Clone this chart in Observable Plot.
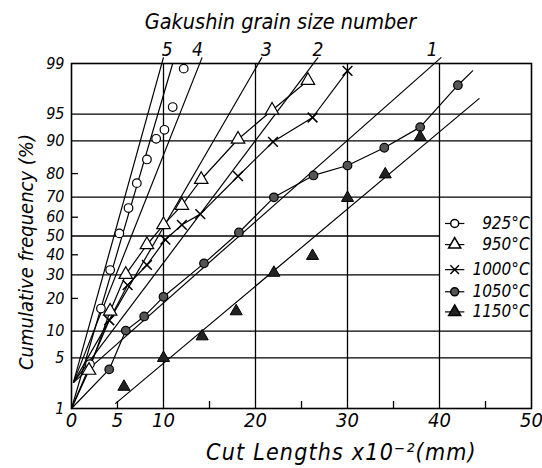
<!DOCTYPE html>
<html><head><meta charset="utf-8">
<script src="https://cdn.jsdelivr.net/npm/d3@7"></script>
<script src="https://cdn.jsdelivr.net/npm/@observablehq/plot@0.6"></script>
<style>body{margin:0;background:#fff}</style>
</head><body><div id="chart"></div>
<script>
// ---- data (cut length x10^-2 mm, cumulative frequency %) ----
const series = ["925°C", "950°C", "1000°C", "1050°C", "1150°C"];
const x925 = [2.0, 3.2, 4.2, 5.2, 6.2, 7.1, 8.2, 9.2, 10.1, 11.0, 12.2];
const p925 = [4.2, 16.4, 32.3, 51.4, 64.7, 76.2, 84.9, 90.5, 92.4, 95.9, 98.8];
const x950 = [1.9, 4.2, 5.9, 8.2, 10.0, 12.0, 14.1, 18.1, 21.8, 25.7];
const p950 = [3.5, 15.5, 30.2, 45.3, 56, 66, 77.7, 90.4, 95.5, 98.2];
const x1000 = [4.1, 6.1, 8.2, 10.2, 12.0, 14.0, 18.1, 21.9, 26.2, 30.0];
const p1000 = [12.8, 25.4, 34.8, 48, 56, 61.6, 79, 89.8, 94.5, 98.7];
const x1050 = [4.1, 5.9, 7.9, 10.0, 14.4, 18.2, 22.0, 26.3, 30.0, 34.0, 37.9, 42.0];
const p1050 = [3.6, 10.1, 13.9, 20.6, 35.6, 51.9, 69.9, 79.3, 82.9, 88.3, 92.9, 97.9];
const x1150 = [5.7, 10.0, 14.2, 17.9, 22.0, 26.2, 30.0, 34.1, 37.9];
const p1150 = [2.1, 5, 8.8, 15.5, 31, 39.4, 69.6, 79.7, 90.9];

// drawn lines: straight fit for 925 & 1150, joined curves for the others
const fit925x = [0, 11.0];  const fit925p = [1, 99];
const curve950x = [0, ...x950]; const curve950p = [1, ...p950];
const curve1000x = [0, ...x1000]; const curve1000p = [1, ...p1000];
const curve1050x = [0, ...x1050, 43.6]; const curve1050p = [1, ...p1050, 98.7];
const fit1150x = [4.8, 44.3]; const fit1150p = [1.2, 96.8];

// Gakushin grain size reference lines (common start, end above 99 %)
const grainNo = ["5", "4", "3", "2", "1"];
const grainX0 = [0.2, 0.2, 0.2, 0.2, 0.2];
const grainP0 = [2.4, 2.4, 2.4, 2.4, 2.4];
const grainX1 = [10.0, 14.2, 20.7, 26.8, 40.2];
const grainP1 = 99.2;
const grainLabelX = [10.4, 13.7, 21.2, 26.8, 39.2];

// axes
const xLabelTicks = [0, 5, 10, 20, 30, 40, 50];
const xGrid = [10, 20, 30, 40];
const xMinor = [5, 15, 25, 35, 45];
const yLabelTicks = [99, 95, 90, 80, 70, 60, 50, 40, 30, 20, 10, 5, 1];
const yGridFull = [95, 90, 70, 10, 5];
const yGridPart = [50, 30];
const yMinor = [80, 60, 40, 20];
const legendP = [56.7, 45.4, 32.5, 22.6, 15.3];

// ---- probability (probit) transform ----
function probit(p) {
  const a=[-3.969683028665376e+01,2.209460984245205e+02,-2.759285104469687e+02,1.383577518672690e+02,-3.066479806614716e+01,2.506628277459239e+00];
  const b=[-5.447609879822406e+01,1.615858368580409e+02,-1.556989798598866e+02,6.680131188771972e+01,-1.328068155288572e+01];
  const c=[-7.784894002430293e-03,-3.223964580411365e-01,-2.400758277161838e+00,-2.549732539343734e+00,4.374664141464968e+00,2.938163982698783e+00];
  const d=[7.784695709041462e-03,3.224671290700398e-01,2.445134137142996e+00,3.754408661907416e+00];
  const pl = 0.02425, ph = 1 - pl; let q, r;
  if (p < pl) { q = Math.sqrt(-2*Math.log(p)); return (((((c[0]*q+c[1])*q+c[2])*q+c[3])*q+c[4])*q+c[5])/((((d[0]*q+d[1])*q+d[2])*q+d[3])*q+1); }
  if (p <= ph) { q = p - 0.5; r = q*q; return (((((a[0]*r+a[1])*r+a[2])*r+a[3])*r+a[4])*r+a[5])*q/(((((b[0]*r+b[1])*r+b[2])*r+b[3])*r+b[4])*r+1); }
  q = Math.sqrt(-2*Math.log(1-p)); return -(((((c[0]*q+c[1])*q+c[2])*q+c[3])*q+c[4])*q+c[5])/((((d[0]*q+d[1])*q+d[2])*q+d[3])*q+1);
}
const Z = p => probit(p / 100);

const pts = (name, xs, ps) => xs.map((x, i) => ({s: name, x, z: Z(ps[i])}));
const pts925 = pts(series[0], x925, p925);
const pts950 = pts(series[1], x950, p950);
const pts1000 = pts(series[2], x1000, p1000);
const pts1050 = pts(series[3], x1050, p1050);
const pts1150 = pts(series[4], x1150, p1150);
const curves = [
  ...pts("925", fit925x, fit925p),
  ...pts("950", curve950x, curve950p),
  ...pts("1000", curve1000x, curve1000p),
  ...pts("1050", curve1050x, curve1050p),
  ...pts("1150", fit1150x, fit1150p)
];
const grainLines = grainNo.map((n, i) => ({n, x1: grainX0[i], z1: Z(grainP0[i]), x2: grainX1[i], z2: Z(grainP1), lx: grainLabelX[i], zt: Z(99)}));
const legend = series.map((s, i) => ({s, z: Z(legendP[i])}));
const labelMap = new Map(yLabelTicks.map(p => [Z(p), String(p)]));

const W = 542, H = 468, mL = 71, mR = 11, mT = 63, mB = 60;
const font = "'Liberation Sans Narrow','DejaVu Sans Condensed','Liberation Sans',sans-serif";

const chart = Plot.plot({
  width: W, height: H,
  marginLeft: mL, marginRight: mR, marginTop: mT, marginBottom: mB,
  x: {domain: [0, 50]},
  y: {domain: [Z(1), Z(99)]},
  style: {fontFamily: font, fontStyle: "italic", background: "white", color: "black"},
  marks: [
    Plot.ruleX(xGrid, {stroke: "black", strokeWidth: 1.3}),
    Plot.ruleY(yGridFull.map(Z), {stroke: "black", strokeWidth: 1.3}),
    Plot.ruleY(yGridPart.map(Z), {x1: () => 0, x2: () => 40, stroke: "black", strokeWidth: 1.3}),
    Plot.ruleX(xMinor, {insetTop: H - mT - mB - 7, stroke: "black", strokeWidth: 1.3}),
    Plot.ruleY(yMinor.map(Z), {insetRight: W - mL - mR - 7, stroke: "black", strokeWidth: 1.3}),
    Plot.frame({stroke: "black", strokeWidth: 1.6}),
    Plot.axisX({ticks: xLabelTicks, tickSize: 0, tickPadding: 4, fontSize: 20, label: null}),
    Plot.axisY({ticks: yLabelTicks.map(Z), tickFormat: z => labelMap.get(z), tickSize: 0, tickPadding: 7, fontSize: 16, label: null}),
    // grain size lines
    Plot.link(grainLines, {x1: "x1", y1: "z1", x2: "x2", y2: "z2", stroke: "black", strokeWidth: 1.2, clip: false}),
    Plot.text(grainLines, {x: "lx", y: "zt", text: "n", dy: -14, fontSize: 19}),
    // data lines
    Plot.line(curves, {x: "x", y: "z", z: "s", stroke: "black", strokeWidth: 1.2}),
    // markers
    Plot.dot(pts925, {x: "x", y: "z", r: 4.3, symbol: "circle", stroke: "black", fill: "white", strokeWidth: 1.2}),
    Plot.dot(pts950, {x: "x", y: "z", r: 5, symbol: "triangle", stroke: "black", fill: "white", strokeWidth: 1.2}),
    Plot.dot(pts1000, {x: "x", y: "z", r: 4.5, symbol: "times", stroke: "black", strokeWidth: 1.5}),
    Plot.dot(pts1050, {x: "x", y: "z", r: 4.3, symbol: "circle", stroke: "black", fill: "#555", strokeWidth: 1.2}),
    Plot.dot(pts1150, {x: "x", y: "z", r: 4.5, symbol: "triangle", stroke: "black", fill: "#222", strokeWidth: 1}),
    // legend
    Plot.link(legend, {x1: () => 40.6, x2: () => 42.7, y1: "z", y2: "z", stroke: "black", strokeWidth: 1.2}),
    Plot.dot(legend.slice(0,1), {x: () => 41.65, y: "z", r: 4, fill: "white", stroke: "black"}),
    Plot.dot(legend.slice(1,2), {x: () => 41.65, y: "z", r: 4.5, symbol: "triangle", fill: "white", stroke: "black"}),
    Plot.dot(legend.slice(2,3), {x: () => 41.65, y: "z", r: 4, symbol: "times", stroke: "black", strokeWidth: 1.5}),
    Plot.dot(legend.slice(3,4), {x: () => 41.65, y: "z", r: 4, fill: "#555", stroke: "black"}),
    Plot.dot(legend.slice(4,5), {x: () => 41.65, y: "z", r: 4.5, symbol: "triangle", fill: "#222", stroke: "black"}),
    Plot.text(legend, {x: () => 49.8, y: "z", text: "s", textAnchor: "end", fontSize: 17}),
    // titles
    Plot.text(["Gakushin grain size number"], {frameAnchor: "top", lineAnchor: "middle", dx: -21, dy: -41, fontSize: 21.5}),
    Plot.text(["Cut Lengths x10⁻²(mm)"], {frameAnchor: "bottom", lineAnchor: "middle", dx: 40, dy: 44, fontSize: 23}),
    Plot.text(["Cumulative frequency (%)"], {frameAnchor: "left", textAnchor: "middle", lineAnchor: "middle", dx: -45, dy: 16, rotate: -90, fontSize: 20})
  ]
});
document.getElementById("chart").appendChild(chart);
d3.select(chart).selectAll("text").filter(function() { return this.textContent.startsWith("Cut"); }).style("letter-spacing", "1.2px");
</script>
</body></html>
